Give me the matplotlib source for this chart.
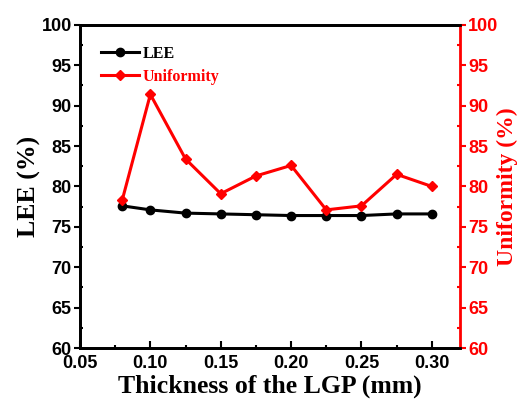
import numpy as np
import matplotlib.pyplot as plt

# data
thickness = [0.08, 0.10, 0.125, 0.15, 0.175, 0.20, 0.225, 0.25, 0.275, 0.30]
lee = [77.6, 77.1, 76.7, 76.6, 76.5, 76.4, 76.4, 76.4, 76.6, 76.6]
uniformity = [78.3, 91.4, 83.4, 79.1, 81.3, 82.6, 77.1, 77.6, 81.5, 80.0]

xticks = [0.05, 0.10, 0.15, 0.20, 0.25, 0.30]
yticks = [60, 65, 70, 75, 80, 85, 90, 95, 100]

tick_font = {'family': 'Liberation Sans', 'weight': 'bold', 'size': 13}
label_font = {'family': 'Liberation Serif', 'weight': 'bold', 'size': 18.5}

fig = plt.figure(figsize=(5.18, 4.08), dpi=100)
ax1 = fig.add_axes([0.1544, 0.147, 0.7336, 0.792])
ax2 = ax1.twinx()

l1, = ax1.plot(thickness, lee, color='black', lw=2.2, marker='o', ms=6, label='LEE')
l2, = ax2.plot(thickness, uniformity, color='red', lw=2.2, marker='D', ms=5.5, label='Uniformity')

ax1.set_xlim(0.05, 0.32)
ax1.set_ylim(60, 100)
ax2.set_ylim(60, 100)
ax1.set_xticks(xticks)
ax1.set_xticklabels(['%.2f' % v for v in xticks], fontdict=tick_font)
ax1.set_yticks(yticks)
ax1.set_yticklabels([str(v) for v in yticks], fontdict=tick_font)
ax2.set_yticks(yticks)
ax2.set_yticklabels([str(v) for v in yticks], fontdict=tick_font, color='red')
ax1.set_xticks(np.arange(0.075, 0.32, 0.05), minor=True)
ax1.set_yticks(np.arange(62.5, 100, 5), minor=True)
ax2.set_yticks(np.arange(62.5, 100, 5), minor=True)

ax1.tick_params(axis='x', which='major', direction='in', length=5, width=1.5, pad=5)
ax1.tick_params(axis='x', which='minor', direction='in', length=2.5, width=1.5)
ax1.tick_params(axis='y', which='major', direction='out', length=4, width=1.5, pad=2)
ax1.tick_params(axis='y', which='minor', direction='in', length=2.5, width=1.5)
ax2.tick_params(axis='y', which='major', direction='out', length=4, width=1.5, colors='red', pad=2)
ax2.tick_params(axis='y', which='minor', direction='in', length=2.5, width=1.5, colors='red')

for s in ['left', 'bottom', 'top']:
    ax1.spines[s].set_linewidth(2)
    ax2.spines[s].set_linewidth(2)
ax2.spines['right'].set_linewidth(2)
ax2.spines['right'].set_color('red')
ax1.spines['right'].set_visible(False)

ax1.set_xlabel('Thickness of the LGP (mm)', fontdict=label_font, labelpad=2)
ax1.set_ylabel('LEE (%)', fontdict=label_font, labelpad=0)
ax2.set_ylabel('Uniformity (%)', fontdict=dict(label_font, size=17), color='red', labelpad=-1)

leg = ax1.legend([l1, l2], ['LEE', 'Uniformity'], loc='upper left', frameon=False,
                 prop={'family': 'Liberation Serif', 'weight': 'bold', 'size': 11.5},
                 handlelength=2.4, handletextpad=0.2, borderaxespad=0.9, labelspacing=0.45)
leg.get_texts()[1].set_color('red')

fig.savefig('out.png', dpi=100)
